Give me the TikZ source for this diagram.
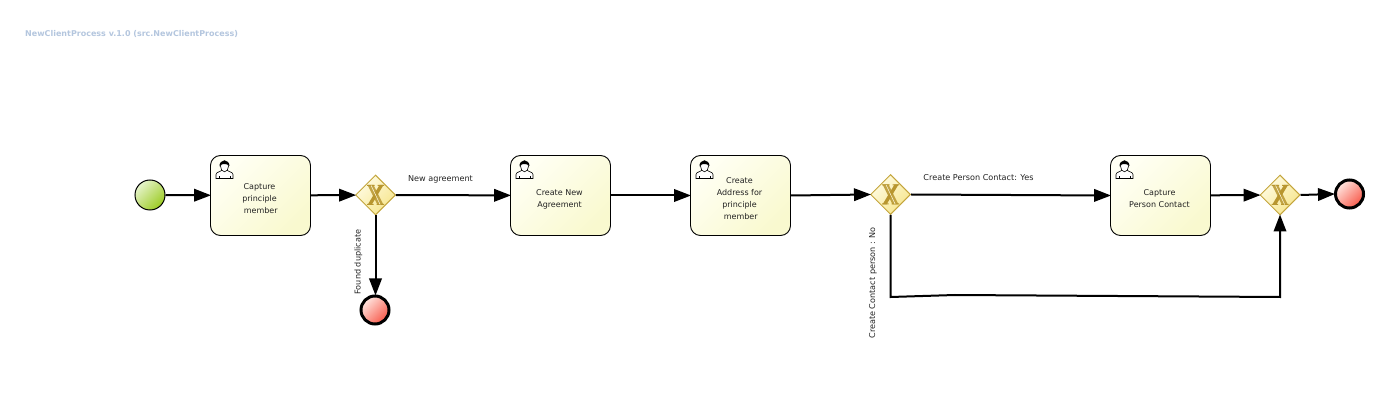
\documentclass[tikz,border=0pt]{standalone}
\usepackage{fontspec}
\setmainfont{DejaVu Sans}
\usetikzlibrary{shapes.geometric,arrows.meta}
\definecolor{taskA}{HTML}{FFFFF4}
\definecolor{taskB}{HTML}{F9F9CF}
\definecolor{gwA}{HTML}{FFFCE4}
\definecolor{gwB}{HTML}{F6E58C}
\definecolor{gwLine}{HTML}{C4A53C}
\definecolor{gwX}{HTML}{B8962F}
\definecolor{startA}{HTML}{E6F4CC}
\definecolor{startB}{HTML}{9CCB22}
\definecolor{endA}{HTML}{FFE6E0}
\definecolor{endB}{HTML}{F8594A}
\definecolor{titleC}{HTML}{B4C6DE}
\definecolor{labelC}{HTML}{222222}
\tikzset{
  flow/.style={line width=2pt,draw=black,shorten >=-1pt,-{Triangle[length=17pt,width=12.5pt]}},
  task/.style={draw=black,line width=0.9pt,rounded corners=10pt,minimum width=100pt,minimum height=80pt,
    inner sep=0pt,top color=taskA,bottom color=taskB,shading angle=45},
  tasktext/.style={align=center,font=\fontsize{8pt}{12pt}\selectfont,text=labelC,inner sep=0pt,xshift=-1pt,yshift=-3.5pt},
  gateway/.style={diamond,aspect=1,draw=gwLine,line width=1pt,minimum size=40pt,inner sep=0pt,
    top color=gwA,bottom color=gwB,shading angle=45},
  startev/.style={circle,draw=black,line width=1pt,minimum size=30pt,inner sep=0pt,
    top color=startA,bottom color=startB,shading angle=45},
  endev/.style={circle,draw=black,line width=3pt,minimum size=28pt,inner sep=0pt,
    top color=endA,bottom color=endB,shading angle=45},
  flowlabel/.style={font=\fontsize{8.1pt}{10pt}\selectfont,text=labelC,inner sep=0pt},
  person/.pic={
    \draw[line width=0.6pt,fill=white] (-8.5,17.5) -- (-8.5,13.5) .. controls (-8.5,11) and (-4,11) .. (-2.5,9)
      -- (2.5,9) .. controls (4,11) and (8.5,11) .. (8.5,13.5) -- (8.5,17.5) -- cycle;
    \draw[line width=0.4pt] (-5.5,17.5) -- (-5.5,15) (5.5,17.5) -- (5.5,15);
    \draw[line width=0.6pt,fill=white] (0,5.2) ellipse (4pt and 5.6pt);
    \fill[black] (-5,5.5) .. controls (-5.6,-2.2) and (5.1,-2.2) .. (5,5) .. controls (3.4,2.5) and (-2,3) .. (-3,3.5) .. controls (-3.5,4) and (-3.7,5) .. (-5,5.5) -- cycle;
  },
  gwcross/.pic={
    \fill[gwX,opacity=.85] (-8,-10) -- (-2,-10) -- (8,10) -- (2,10) -- cycle;
    \fill[gwX] (4,-10) -- (8,-10) -- (-4,10) -- (-8,10) -- cycle;
    \fill[gwX] (-8.5,-10) rectangle (-1,-9) (2,-10) rectangle (8.5,-9) (-8.5,9) rectangle (-2,10) (1,9) rectangle (8.5,10);
    \draw[gwA,line width=0.5pt] (-4.4,-9.5) -- (4.6,9.5);
  }
}
\begin{document}
\begin{tikzpicture}[x=1pt,y=-1pt]
\useasboundingbox (0,0) rectangle (1388,419);
\node[anchor=west,inner sep=0pt,text=titleC,font=\fontsize{8pt}{10pt}\selectfont\bfseries] (title) at (25,33.5) {NewClientProcess v.1.0 (src.NewClientProcess)};

\node[startev] (start) at (150,195) {};
\node[task,label={[tasktext,name=t1text]center:Capture\\principle\\\ member}] (t1) at (260.5,195.5) {};
\node[gateway] (g1) at (375.5,195) {};
\node[task,label={[tasktext,name=t2text]center:Create New\\Agreement}] (t2) at (560.5,195.5) {};
\node[task,label={[tasktext,name=t3text]center:Create\\Address for\\principle\\\ member}] (t3) at (740.5,195.5) {};
\node[gateway] (g2) at (890.5,194.5) {};
\node[task,label={[tasktext,name=t4text]center:Capture\\Person Contact}] (t4) at (1160.5,195.5) {};
\node[gateway] (g3) at (1280,195) {};
\node[endev] (e1) at (375,310) {};
\node[endev] (e2) at (1349.5,194) {};

\pic at (g1) {gwcross};
\pic at (g2) {gwcross};
\pic at (g3) {gwcross};
\pic at (224.5,161) {person};
\pic at (524.5,161) {person};
\pic at (704.5,161) {person};
\pic at (1124.5,161) {person};

\coordinate (w1) at (890.5,297);
\coordinate (w2) at (955,295);
\coordinate (w3) at (1280,297);

\draw[flow] (start) -- (t1);
\draw[flow] (t1) -- (g1);
\draw[flow] (g1) -- (t2);
\draw[flow] (t2) -- (t3);
\draw[flow] (t3.east) -- (g2.west);
\draw[flow] (g2.east) -- (t4.west);
\draw[flow] (t4) -- (g3);
\draw[flow] (g3.east) -- (e2.west);
\draw[flow] (g1.south) -- (g1.south |- e1.north);
\draw[flow] (g2.south) -- (w1) -- (w2) -- (w3) -- (g3.south);

\node[flowlabel] (l1) at (440.5,179) {New agreement};
\node[flowlabel] (l2) at (978.5,178) {Create Person Contact: Yes};
\node[flowlabel,rotate=90] (l3) at (358.5,262) {Found duplicate};
\node[flowlabel,rotate=90] (l4) at (873,283) {Create Contact person : No};
\end{tikzpicture}
\end{document}
